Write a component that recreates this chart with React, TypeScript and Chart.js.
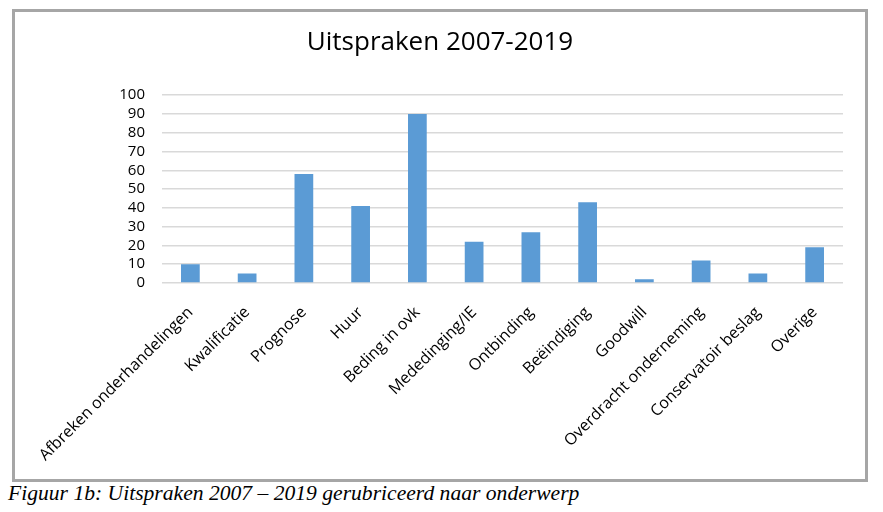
import React, { useEffect, useRef } from "react";
import { Chart, registerables } from "chart.js";

Chart.register(...registerables);

// Onderwerpen van de uitspraken en het aantal per onderwerp
const categories = [
  "Afbreken onderhandelingen",
  "Kwalificatie",
  "Prognose",
  "Huur",
  "Beding in ovk",
  "Mededinging/IE",
  "Ontbinding",
  "Beëindiging",
  "Goodwill",
  "Overdracht onderneming",
  "Conservatoir beslag",
  "Overige",
];
const counts = [10, 5, 58, 41, 90, 22, 27, 43, 2, 12, 5, 19];

const chartTitle = "Uitspraken 2007-2019";
const caption = "Figuur 1b: Uitspraken 2007 – 2019 gerubriceerd naar onderwerp";

const yMin = 0;
const yMax = 100;
const yStep = 10;

const FONT = "'Open Sans', 'Noto Sans', sans-serif";

export default function App() {
  const canvasRef = useRef<HTMLCanvasElement | null>(null);

  useEffect(() => {
    const canvas = canvasRef.current;
    if (!canvas) return;
    const chart = new Chart(canvas, {
      type: "bar",
      data: {
        labels: categories,
        datasets: [
          {
            data: counts,
            backgroundColor: "#5b9bd5",
            borderWidth: 0,
            barPercentage: 0.33,
            categoryPercentage: 1,
          },
        ],
      },
      options: {
        animation: false,
        responsive: false,
        maintainAspectRatio: false,
        layout: { padding: { left: 22, right: 22, top: 0, bottom: 0 } },
        plugins: {
          legend: { display: false },
          tooltip: { enabled: false },
          title: {
            display: true,
            text: chartTitle,
            color: "#000000",
            font: { family: FONT, size: 26, weight: "normal" },
            padding: { top: 15, bottom: 37 },
          },
        },
        scales: {
          x: {
            grid: { display: false },
            border: { display: false },
            ticks: {
              autoSkip: false,
              maxRotation: 45,
              minRotation: 45,
              padding: 12,
              color: "#000000",
              font: { family: FONT, size: 16 },
            },
            afterFit: (scale: any) => {
              scale.height = 196;
            },
          },
          y: {
            min: yMin,
            max: yMax,
            grid: { color: "#d9d9d9", lineWidth: 1.5, drawTicks: false },
            border: { display: false },
            ticks: {
              stepSize: yStep,
              autoSkip: false,
              padding: 17,
              color: "#000000",
              font: { family: FONT, size: 15 },
            },
            afterFit: (scale: any) => {
              scale.width = 125;
            },
          },
        },
      },
    });
    return () => chart.destroy();
  }, []);

  return (
    <div
      style={{
        position: "absolute",
        left: 0,
        top: 0,
        width: 883,
        height: 512,
        background: "#ffffff",
        overflow: "hidden",
      }}
    >
      <div
        style={{
          position: "absolute",
          left: 12,
          top: 9,
          width: 850,
          height: 467,
          border: "3px solid #a6a6a6",
          background: "#ffffff",
        }}
      >
        <canvas ref={canvasRef} width={850} height={467} style={{ display: "block" }} />
      </div>
      <div
        style={{
          position: "absolute",
          left: 8,
          top: 481,
          fontFamily: "'Liberation Serif', 'DejaVu Serif', serif",
          fontStyle: "italic",
          fontSize: 21.6,
          color: "#000000",
          whiteSpace: "nowrap",
        }}
      >
        {caption}
      </div>
    </div>
  );
}
